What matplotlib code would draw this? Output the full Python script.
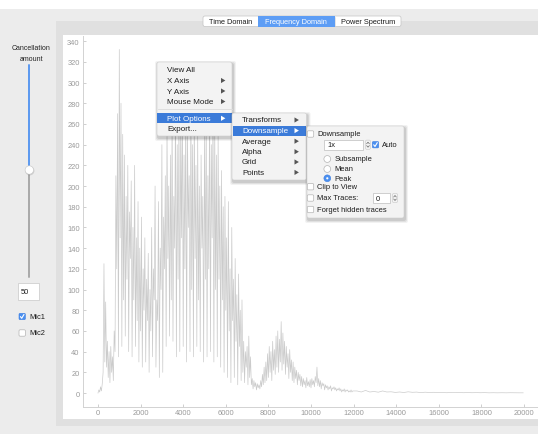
import numpy as np
import matplotlib
matplotlib.use("Agg")
import matplotlib.pyplot as plt
from matplotlib.patches import Rectangle, Circle, FancyBboxPatch, Polygon

W, H = 538, 435
plt.rcParams['font.family'] = ['Liberation Sans', 'DejaVu Sans']

# ---------------- data ----------------
freq_step_hz = 40          # spacing of the dense part of the spectrum
magnitude_low = [
    0, 3, 1, 6, 2, 9, 20, 125, 30, 88,
    25, 50, 15, 40, 10, 45, 20, 35, 12, 60,
    40, 210, 120, 270, 35, 332, 150, 280, 45, 250,
    90, 230, 55, 190, 110, 220, 40, 175, 130, 205,
    35, 160, 90, 220, 45, 150, 70, 185, 30, 140,
    60, 170, 25, 120, 80, 150, 30, 110, 70, 135,
    20, 100, 60, 160, 35, 120, 90, 200, 25, 90,
    70, 185, 15, 140, 100, 240, 20, 170, 120, 210,
    45, 260, 130, 200, 55, 230, 90, 275, 50, 190,
    140, 285, 35, 240, 110, 270, 40, 250, 150, 300,
    45, 230, 120, 280, 30, 255, 160, 210, 40, 290,
    100, 240, 35, 270, 130, 220, 45, 250, 90, 200,
    40, 230, 140, 190, 30, 250, 110, 270, 35, 210,
    120, 285, 40, 240, 150, 275, 30, 260, 100, 230,
    35, 250, 110, 200, 25, 215, 90, 180, 20, 190,
    80, 150, 15, 185, 60, 120, 10, 160, 70, 110,
    15, 130, 50, 95, 8, 115, 45, 80, 12, 90,
    20, 50, 10, 40, 25, 45, 8, 55, 15, 35,
    8, 14, 4, 12, 6, 10, 3, 9, 5, 8,
    4, 12, 6, 18, 8, 25, 10, 30, 12, 38,
    15, 45, 20, 40, 12, 50, 22, 42, 18, 55,
    25, 60, 20, 52, 30, 69, 22, 58, 28, 50,
    18, 45, 25, 38, 14, 42, 20, 32, 12, 30,
    10, 25, 14, 22, 8, 20, 12, 18, 7, 16,
    6, 14, 8, 12, 5, 15, 7, 11, 6, 13,
    5, 14, 8, 12, 6, 16, 10, 25, 7, 14,
    6, 12, 4, 10, 7, 9, 3, 8, 5, 7,
    3, 6, 4, 7, 2, 5, 4, 6, 3, 5,
    2, 4, 3, 5, 2, 4, 1, 3, 2, 4,
    1, 3, 2, 3, 1, 2, 1, 3, 1, 2,
]
tail_step_hz = 200         # spacing of the flat high-frequency tail
magnitude_tail = [
    2, 1, 2.5, 1, 1.5, 0.8, 2, 1, 1.2, 0.6,
    1, 0.5, 1.2, 0.7, 0.9, 0.4, 0.8, 0.5, 0.7, 0.4,
    0.6, 0.3, 0.5, 0.4, 0.6, 0.3, 0.5, 0.3, 0.4, 0.3,
    0.4, 0.2, 0.3, 0.2, 0.3, 0.2, 0.3, 0.2, 0.2, 0.2,
]
y_ticks = list(range(0, 341, 20))
x_ticks = list(range(0, 20001, 2000))

tab_labels = ["Time Domain", "Frequency Domain", "Power Spectrum"]
menu_items = ["View All", "X Axis", "Y Axis", "Mouse Mode", "Plot Options", "Export..."]
submenu_items = ["Transforms", "Downsample", "Average", "Alpha", "Grid", "Points"]

freq_low = np.arange(len(magnitude_low)) * freq_step_hz
freq_tail = len(magnitude_low) * freq_step_hz + np.arange(1, len(magnitude_tail) + 1) * tail_step_hz - freq_step_hz
freq = np.concatenate([freq_low, freq_tail])
mag = np.concatenate([magnitude_low, magnitude_tail])

# ---------------- figure ----------------
fig = plt.figure(figsize=(W / 100, H / 100), dpi=100)
fig.patch.set_facecolor('#ececec')

def px_axes(z):
    a = fig.add_axes([0, 0, 1, 1], zorder=z)
    a.set_xlim(0, W)
    a.set_ylim(H, 0)
    a.axis('off')
    a.patch.set_alpha(0)
    return a

bg = px_axes(0)

def rect(a, x0, y0, x1, y1, fc, ec='none', lw=0.6, z=1, alpha=1.0, r=0):
    if r:
        p = FancyBboxPatch((x0, y0), x1 - x0, y1 - y0,
                           boxstyle=f"round,pad=0,rounding_size={r}",
                           facecolor=fc, edgecolor=ec, lw=lw, zorder=z, alpha=alpha)
    else:
        p = Rectangle((x0, y0), x1 - x0, y1 - y0, facecolor=fc, edgecolor=ec,
                      lw=lw, zorder=z, alpha=alpha)
    a.add_patch(p)

# window background pieces
rect(bg, 0, 0, W, 10, 'white')
rect(bg, 56, 22, W, 427, '#e0e0e0')
rect(bg, 63, 36, W, 420, 'white')

# ---------------- plot ----------------
ax = fig.add_axes([83 / W, 1 - 408 / H, (W - 83) / W, (408 - 37) / H], zorder=2)
ax.patch.set_alpha(0)
ax.plot(freq, mag, color='#a9a9a9', lw=0.5, alpha=0.6)
ax.set_xlim(-704, 20657)
ax.set_ylim(-13.5, 345)
for s in ['top', 'right']:
    ax.spines[s].set_visible(False)
for s in ['left', 'bottom']:
    ax.spines[s].set_color('#d2d2d2')
    ax.spines[s].set_linewidth(0.7)
ax.set_yticks(y_ticks)
ax.set_xticks(x_ticks)
ax.set_yticklabels([str(v) for v in y_ticks])
ax.set_xticklabels([str(v) for v in x_ticks])
ax.tick_params(direction='in', length=2.2, width=0.6, color='#c8c8c8',
               labelsize=5.4, labelcolor='#9a9a9a')
ax.tick_params(axis='y', pad=2.4)
ax.tick_params(axis='x', pad=1.6)

# ---------------- overlay widgets ----------------
ov = px_axes(10)
TXT = '#1c1c1c'
FS_MENU = 5.8

def label(x, y, s, fs=FS_MENU, color=TXT, ha='left', z=20):
    ov.text(x, y, s, fontsize=fs, color=color, ha=ha, va='center', zorder=z)

def tri(x, y, color='#555555', z=20):
    ov.add_patch(Polygon([[x - 2, y - 2.6], [x - 2, y + 2.6], [x + 2.4, y]],
                         closed=True, facecolor=color, edgecolor='none', zorder=z))

def shadow(x0, y0, x1, y1, z):
    for k, a in [(3, 0.05), (2, 0.07), (1, 0.09)]:
        rect(ov, x0 - k + 1, y0 - k + 2, x1 + k + 1, y1 + k + 2, '#000000', alpha=a, z=z, r=2)

def checkbox(x0, yc, checked=False, z=30):
    if checked:
        rect(ov, x0, yc - 3.2, x0 + 6.4, yc + 3.2, '#4a8ff0', ec='#3f7fe0', lw=0.4, z=z, r=1.2)
        ov.plot([x0 + 1.4, x0 + 2.7, x0 + 5.0], [yc + 0.1, yc + 1.8, yc - 2.1],
                color='white', lw=0.8, zorder=z + 1, solid_capstyle='round')
    else:
        rect(ov, x0, yc - 3.2, x0 + 6.4, yc + 3.2, 'white', ec='#b4b4b4', lw=0.5, z=z, r=1.2)

def radio(xc, yc, selected=False, z=30):
    if selected:
        ov.add_patch(Circle((xc, yc), 3.4, facecolor='#4a8ff0', edgecolor='#3f7fe0', lw=0.4, zorder=z))
        ov.add_patch(Circle((xc, yc), 1.1, facecolor='white', edgecolor='none', zorder=z + 1))
    else:
        ov.add_patch(Circle((xc, yc), 3.4, facecolor='white', edgecolor='#b4b4b4', lw=0.5, zorder=z))

def spin_arrows(xc, yc, z=30):
    ov.plot([xc - 1.3, xc, xc + 1.3], [yc - 1.0, yc - 2.5, yc - 1.0], color='#666666', lw=0.5, zorder=z)
    ov.plot([xc - 1.3, xc, xc + 1.3], [yc + 1.0, yc + 2.5, yc + 1.0], color='#666666', lw=0.5, zorder=z)
    rect(ov, xc - 2.6, yc - 4.6, xc + 2.6, yc + 4.6, 'none', ec='#c8c8c8', lw=0.4, z=z, r=1.5)

# tabs
rect(ov, 203, 17, 401, 27.5, 'white', ec='#c4c4c4', lw=0.5, z=5, r=2)
rect(ov, 258, 17, 334.5, 27.5, '#5d9df5', ec='none', z=6)
ov.plot([334.5, 334.5], [17.5, 27], color='#d0d0d0', lw=0.4, zorder=6)
tab_centers = [231, 296, 368]
for lab, xc in zip(tab_labels, tab_centers):
    label(xc, 22.4, lab, fs=5.3, color='white' if lab == 'Frequency Domain' else TXT, ha='center')

# left panel
label(31.3, 48.7, "Cancellation", fs=5.0, ha='center', color='#222222')
label(31.3, 59.7, "amount", fs=5.0, ha='center', color='#222222')
ov.plot([29.3, 29.3], [66, 170], color='#5b98f0', lw=1.4, zorder=5, solid_capstyle='round')
ov.plot([29.3, 29.3], [172, 278], color='#a9a9a9', lw=1.4, zorder=5, solid_capstyle='round')
ov.add_patch(Circle((29.8, 171.8), 4.6, facecolor='#000000', alpha=0.12, edgecolor='none', zorder=6))
ov.add_patch(Circle((29.3, 171.0), 4.2, facecolor='white', edgecolor='#c6c6c6', lw=0.4, zorder=7))
rect(ov, 17.5, 284, 39.3, 300.5, 'white', ec='#c8c8c8', lw=0.5, z=5)
label(21, 292.3, "50", fs=5.4)
checkbox(19, 317.5, checked=True)
label(29, 317.5, "Mic1", fs=5.4)
checkbox(19, 334.0, checked=False)
label(29, 334.0, "Mic2", fs=5.4)

# menu 1
m1 = (157, 63, 232, 137)
shadow(*m1, z=11)
rect(ov, *m1, '#f3f3f3', ec='#cdcdcd', lw=0.4, z=12, r=2)
m1_y = [71, 81.5, 92, 102.5, 119.3, 130]
for item, y in zip(menu_items, m1_y):
    if item == 'Plot Options':
        rect(ov, 157, 114.3, 232, 124.3, '#3b7bd9', z=13)
        label(167, y, item, color='white')
        tri(223, y, color='white')
    else:
        label(167, y, item)
        if item in ('X Axis', 'Y Axis', 'Mouse Mode'):
            tri(223, y)
ov.plot([157.5, 231.5], [110, 110], color='#dcdcdc', lw=0.6, zorder=13)

# menu 2
m2 = (232, 114, 306.5, 181)
shadow(*m2, z=14)
rect(ov, *m2, '#f3f3f3', ec='#cdcdcd', lw=0.4, z=15, r=2)
m2_y = [121, 131.6, 142.2, 152.7, 163, 173.4]
for item, y in zip(submenu_items, m2_y):
    if item == 'Downsample':
        rect(ov, 232.5, 126.7, 306, 136.7, '#3b7bd9', z=16)
        label(242, y, item, color='white')
        tri(296.5, y, color='white')
    else:
        label(242, y, item)
        tri(296.5, y)

# downsample panel
m3 = (307, 127, 404, 219)
shadow(*m3, z=17)
rect(ov, *m3, '#f3f3f3', ec='#cdcdcd', lw=0.4, z=18, r=2)
FS3 = 5.4
checkbox(307.3, 135.0)
label(317.3, 135.0, "Downsample", fs=FS3)
rect(ov, 324, 140.7, 363, 150.7, 'white', ec='#bdbdbd', lw=0.5, z=25)
label(327, 145.9, "1x", fs=FS3, z=31)
spin_arrows(368, 145.7)
checkbox(372.3, 145.7, checked=True)
label(382.3, 145.9, "Auto", fs=FS3)
radio(327.3, 160.0)
label(334.3, 160.0, "Subsample", fs=FS3)
radio(327.3, 170.0)
label(334.3, 170.0, "Mean", fs=FS3)
radio(327.3, 179.3, selected=True)
label(334.3, 179.3, "Peak", fs=FS3)
checkbox(307.3, 187.7)
label(317.3, 187.7, "Clip to View", fs=FS3)
checkbox(307.3, 199.0)
label(317.3, 199.0, "Max Traces:", fs=FS3)
rect(ov, 372.7, 194, 390, 204, 'white', ec='#bdbdbd', lw=0.5, z=25)
label(376, 199.2, "0", fs=FS3, z=31)
spin_arrows(395, 199.0)
checkbox(307.3, 210.5)
label(317.3, 210.5, "Forget hidden traces", fs=FS3)

fig.savefig('out.png', dpi=100, facecolor=fig.get_facecolor())
